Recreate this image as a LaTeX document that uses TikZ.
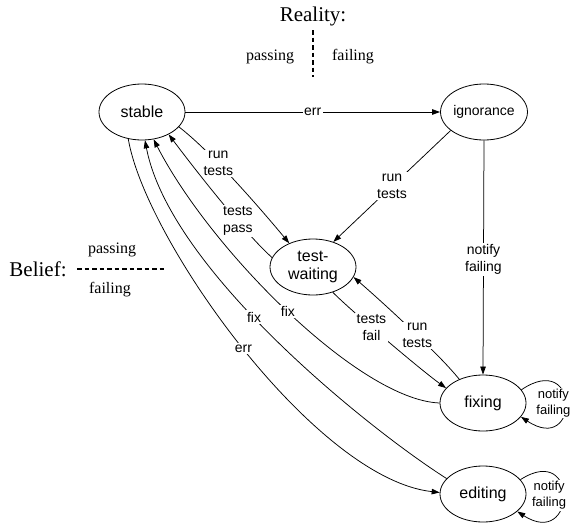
\documentclass[tikz,border=0pt]{standalone}
\usepackage{fontspec}
\setmainfont{Liberation Serif}
\newfontfamily\helv{Liberation Sans}
\usetikzlibrary{shapes.geometric,arrows.meta}
\begin{document}
\begin{tikzpicture}[x=1pt,y=-1pt,
  state/.style={ellipse,draw,line width=0.8pt,minimum width=86pt,minimum height=56pt,inner sep=0pt,align=center,font=\helv\fontsize{16}{18}\selectfont},
  lbl/.style={fill=white,inner sep=1.5pt,align=center,font=\helv\fontsize{14}{17}\selectfont},
  looplbl/.style={fill=white,inner sep=1pt,align=center,font=\helv\fontsize{13}{16}\selectfont},
  edge/.style={line width=0.75pt,-{Triangle[length=8pt,width=5.5pt]}},
  title/.style={font=\fontsize{21}{24}\selectfont},
  side/.style={font=\fontsize{16}{18}\selectfont},
  dashline/.style={line width=1.2pt,dash pattern=on 4.5pt off 3pt}
]
\useasboundingbox (0,0) rectangle (576,525);

% legends
\node[title] (reality) at (313,16) {Reality:};
\coordinate (r1) at (313,30);
\coordinate (r2) at (313,77);
\draw[dashline] (r1) -- (r2);
\node[side] (rpass) at (270,57) {passing};
\node[side] (rfail) at (353,57) {failing};

\node[title] (belief) at (38,269) {Belief:};
\coordinate (b1) at (77,269);
\coordinate (b2) at (165,269);
\draw[dashline] (b1) -- (b2);
\node[side] (bpass) at (112,250) {passing};
\node[side] (bfail) at (110,290) {failing};

% states
\node[state] (stable) at (142,112) {stable};
\node[state,font=\helv\fontsize{14}{16}\selectfont] (ignorance) at (484,112) {ignorance};
\node[state] (tw) at (313,267) {test-\\waiting};
\node[state] (fixing) at (483,403) {fixing};
\node[state] (editing) at (483,494) {editing};

% transitions
\draw[edge] (stable) -- node[lbl] (l1) {err} (ignorance);
\draw[edge] (stable.-22) .. controls +(30,23) and +(-35,-42) .. node[lbl,pos=0.38] (l2) {run\\tests} (tw.135);
\draw[edge] (ignorance.-151) -- node[lbl,pos=0.5] (l3) {run\\tests} (tw.51);
\draw[edge] (tw.167) .. controls +(-25,-22) and +(30,40) .. node[lbl,pos=0.36] (l4) {tests\\pass} (stable.-40);
\draw[edge] (ignorance.south) -- node[lbl,pos=0.51] (l5) {notify\\failing} (fixing.north);
\draw[edge] (tw.-52) .. controls +(20,20) and +(-25,-18) .. node[lbl,pos=0.38] (l6) {tests\\fail} (fixing.158);
\draw[edge] (fixing.135) .. controls +(-20,-25) and +(30,26) .. node[lbl,pos=0.44] (l7) {run\\tests} (tw.-14);
\draw[edge] (fixing.west) .. controls +(-80,-3) and +(57,111) .. node[lbl,pos=0.5] (l8) {fix} (stable.-67);
\draw[edge] (editing.157) .. controls +(-77,-49) and +(25,130) .. node[lbl,pos=0.56] (l9) {fix} (stable.-84);
\draw[edge] (stable.-117) .. controls +(17,101) and +(-125,-14) .. node[lbl,pos=0.5] (l10) {err} (editing.178);

% self loops
\draw[edge] (fixing.19) .. controls +(59,-40) and +(59,39) .. node[looplbl,pos=0.5,xshift=-12pt] (l11) {notify\\failing} (fixing.-20);
\draw[edge] (editing.21) .. controls +(59,-38) and +(59,38) .. node[looplbl,pos=0.5,xshift=-14pt] (l12) {notify\\failing} (editing.-27);
\end{tikzpicture}
\end{document}
